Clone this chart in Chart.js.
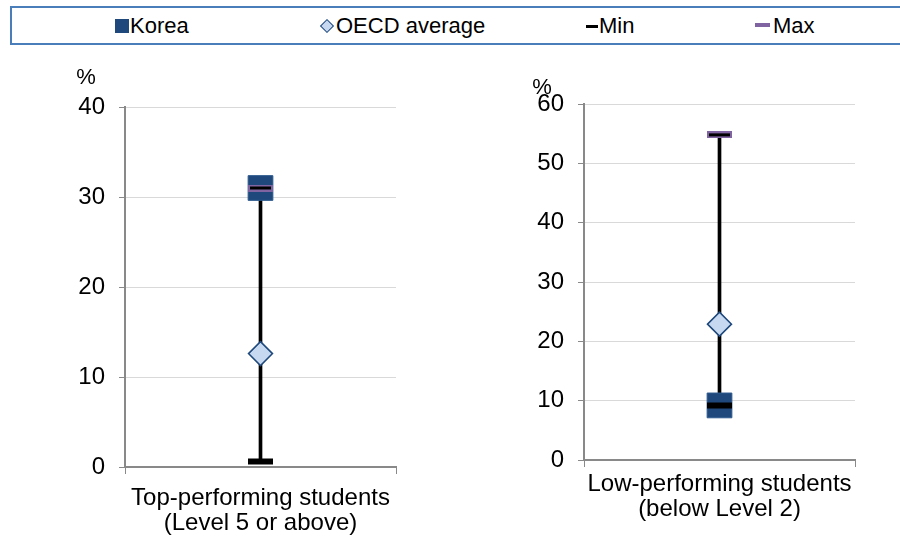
<!DOCTYPE html>
<html>
<head>
<meta charset="utf-8">
<script src="https://cdn.jsdelivr.net/npm/chart.js@4/dist/chart.umd.min.js"></script>
<style>
    body{ margin:0; width:900px; height:539px; overflow:hidden; background:#fff; font-family:"Liberation Sans", Arial, sans-serif; position:relative; }
    canvas{ position:absolute; top:0; }
    #chart_top{ left:0; }
    #chart_low{ left:450px; }
    #legend{ position:absolute; left:10px; top:6px; width:900px; height:35px; border:2px solid #4a7ebb; box-sizing:content-box; z-index:2; background:#fff; }
    .item{ position:absolute; top:0; height:35px; line-height:35px; font-size:22px; color:#000; }
    .mark{ position:absolute; }
</style>
</head>
<body>

<div id="legend">
    <div class="mark" style="left:103px; top:11px; width:14px; height:14px; background:#1f497d;"></div>
    <div class="item" style="left:118px;">Korea</div>
    <div class="mark" style="left:310px; top:13px; width:8px; height:8px; background:#c6d9f1; border:1.5px solid #1f497d; transform:rotate(45deg);"></div>
    <div class="item" style="left:324px;">OECD average</div>
    <div class="mark" style="left:574px; top:17px; width:12px; height:3px; background:#000;"></div>
    <div class="item" style="left:587px;">Min</div>
    <div class="mark" style="left:743px; top:15px; width:15px; height:4px; background:#8064a2;"></div>
    <div class="item" style="left:761px;">Max</div>
</div>

<canvas id="chart_top" width="450" height="539"></canvas>
<canvas id="chart_low" width="450" height="539"></canvas>

<script>

// datos
const top_label = ["Top-performing students", "(Level 5 or above)"];
const low_label = ["Low-performing students", "(below Level 2)"];

const top_korea = [31.0];
const top_oecd = [12.6];
const top_min = [0.6];
const top_max = [31.0];

const low_korea = [9.2];
const low_oecd = [22.9];
const low_min = [9.2];
const low_max = [54.8];

const top_ticks = { max: 40, step: 10 };
const low_ticks = { max: 60, step: 10 };

const font_family = '"Liberation Sans", Arial, sans-serif';
const axis_color = '#898989';
const grid_color = '#d9d9d9';


function maxMarker(){

    let c = document.createElement('canvas');
    c.width = 25;
    c.height = 7;
    let ctx = c.getContext('2d');
    ctx.fillStyle = '#8064a2';
    ctx.fillRect(0, 0, 25, 7);
    ctx.fillStyle = '#000';
    ctx.fillRect(2, 2, 21, 3);
    return c;

}


const percentPlugin = {
    id: 'percent',
    afterDraw(chart, args, opts){
        const ctx = chart.ctx;
        ctx.save();
        ctx.font = '22px ' + font_family;
        ctx.fillStyle = '#000';
        ctx.textAlign = 'center';
        ctx.textBaseline = 'middle';
        ctx.fillText('%', opts.x, opts.y);
        ctx.restore();
    }
};


function makeChart(canvas, cfg){

    return new Chart(canvas, {
        type: 'bar',
        data: {
            labels: [cfg.label],
            datasets: [
                {
                    type: 'bar',
                    data: [[cfg.min[0], cfg.max[0]]],
                    backgroundColor: '#000',
                    barThickness: 3,
                    order: 10
                },
                {
                    type: 'line',
                    label: 'Korea',
                    data: cfg.korea,
                    showLine: false,
                    pointStyle: 'rect',
                    pointRadius: 17.5,
                    backgroundColor: '#1f497d',
                    borderColor: '#2e5a8e',
                    borderWidth: 1,
                    order: 4
                },
                {
                    type: 'line',
                    label: 'OECD average',
                    data: cfg.oecd,
                    showLine: false,
                    pointStyle: 'rectRot',
                    pointRadius: 12,
                    backgroundColor: '#c6d9f1',
                    borderColor: '#1f497d',
                    borderWidth: 1.5,
                    order: 3
                },
                {
                    type: 'line',
                    label: 'Max',
                    data: cfg.max,
                    showLine: false,
                    pointStyle: maxMarker(),
                    order: 2
                },
                {
                    type: 'line',
                    label: 'Min',
                    data: cfg.min,
                    showLine: false,
                    pointStyle: 'line',
                    pointRadius: 12.5,
                    borderColor: '#000',
                    borderWidth: 6,
                    order: 1
                }
            ]
        },
        options: {
            responsive: false,
            animation: false,
            events: [],
            layout: { padding: { top: cfg.top, right: cfg.right, left: 0, bottom: 0 } },
            plugins: {
                legend: { display: false },
                tooltip: { enabled: false },
                percent: { x: cfg.pctX, y: cfg.pctY }
            },
            scales: {
                x: {
                    offset: true,
                    grid: { drawOnChartArea: false, tickLength: 7, tickColor: axis_color, offset: true },
                    border: { color: axis_color, width: 2 },
                    ticks: { color: '#000', padding: cfg.xPad, font: { family: font_family, size: 24, lineHeight: 1.05 } },
                    afterFit: s => { s.height = 539 - cfg.bottom; }
                },
                y: {
                    min: 0,
                    max: cfg.ticks.max,
                    grid: { color: grid_color, lineWidth: 1, tickLength: 6, tickColor: axis_color },
                    border: { color: axis_color, width: 2 },
                    ticks: { stepSize: cfg.ticks.step, color: '#000', padding: 14, font: { family: font_family, size: 24 } },
                    afterFit: s => { s.width = cfg.left; }
                }
            }
        },
        plugins: [percentPlugin]
    });

}


document.addEventListener("DOMContentLoaded", () => {

    makeChart(chart_top, {
        label: top_label, korea: top_korea, oecd: top_oecd, min: top_min, max: top_max,
        ticks: top_ticks, top: 107, bottom: 467, left: 125, right: 54, xPad: 12, pctX: 86, pctY: 78
    });

    makeChart(chart_low, {
        label: low_label, korea: low_korea, oecd: low_oecd, min: low_min, max: low_max,
        ticks: low_ticks, top: 104, bottom: 460, left: 134, right: 45, xPad: 5, pctX: 92, pctY: 88
    });

});

</script>
</body>
</html>
